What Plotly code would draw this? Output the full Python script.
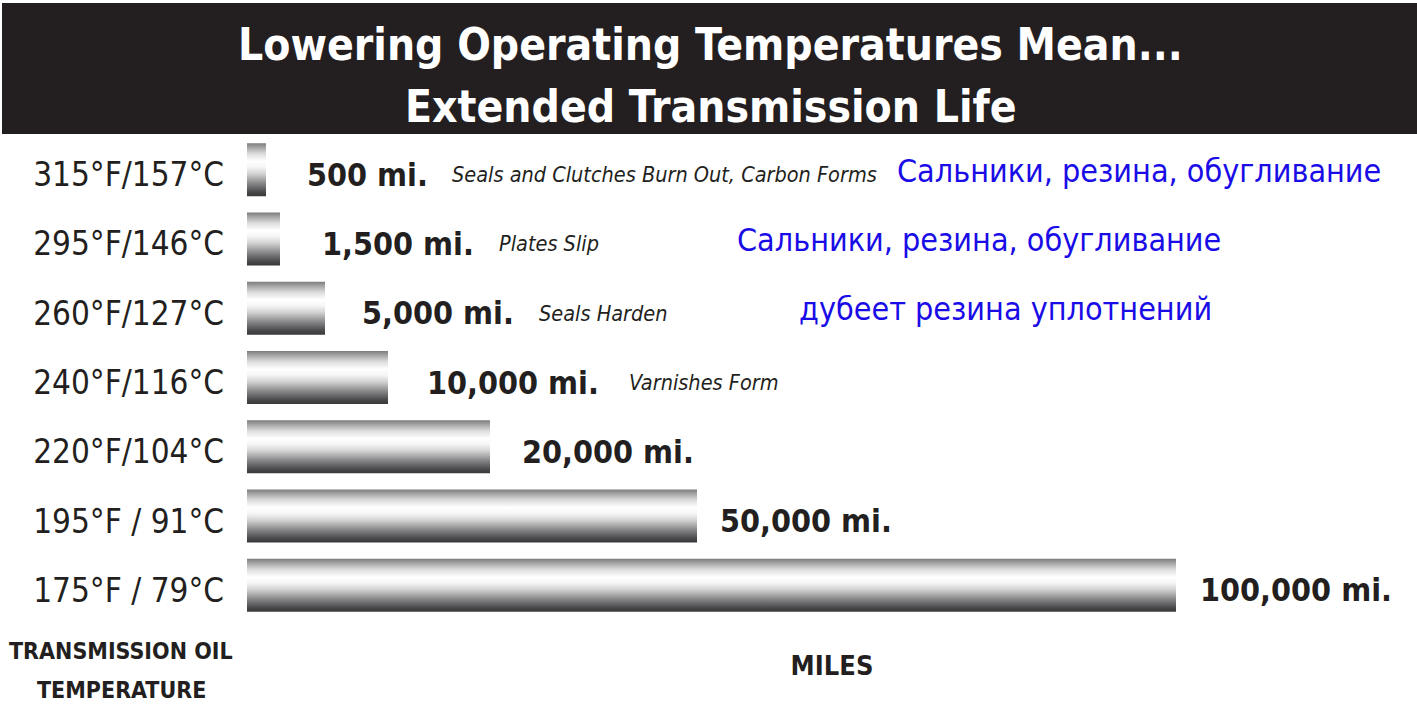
import plotly.graph_objects as go

# ---------------- data ----------------
temperatures = ["315°F/157°C", "295°F/146°C", "260°F/127°C", "240°F/116°C",
                "220°F/104°C", "195°F / 91°C", "175°F / 79°C"]
miles = [500, 1500, 5000, 10000, 20000, 50000, 100000]
# drawn bar length (the original graphic is not to scale), read in picture units
bar_length = [19, 33, 78, 141, 243, 450, 929]
effects = ["Seals and Clutches Burn Out, Carbon Forms", "Plates Slip",
           "Seals Harden", "Varnishes Form", "", "", ""]
effects_ru = ["Сальники, резина, обугливание", "Сальники, резина, обугливание",
              "дубеет резина уплотнений", "", "", "", ""]
title_lines = ["Lowering Operating Temperatures Mean...", "Extended Transmission Life"]
y_title_lines = ["TRANSMISSION OIL", "TEMPERATURE"]
x_title = "MILES"

# ---------------- layout constants ----------------
W, H = 1417, 709
ML, MT, MB, MR = 247, 135, 89, 0
PW, PH = W - ML - MR, H - MT - MB
N = len(temperatures)
BAR_FRAC = 0.765
value_gap = [39, 40, 35, 37, 30, 21, 22]          # px between bar end and value label
effect_left = [450, 497, 537, 627]                  # px, left edge of italic notes
ru_center = [1139, 979, 1005]                       # px, centre of blue notes
COND = "DejaVu Sans Condensed, Liberation Sans, sans-serif"
INK = "#231f20"

def py2paper(py):
    return (H - MB - py) / PH

metal = [[0.00, "#38383a"], [0.08, "#4a4a4c"], [0.25, "#8a8a8c"], [0.42, "#d2d2d2"],
         [0.55, "#f6f6f6"], [0.66, "#ffffff"], [0.80, "#dcdcdc"], [0.92, "#a4a4a4"],
         [1.00, "#7c7c7c"]]

ypos = [N - 1 - i for i in range(N)]
fig = go.Figure()
h = BAR_FRAC / 2
for i in range(N):
    y, L = ypos[i], bar_length[i]
    fig.add_trace(go.Scatter(
        x=[0, L, L, 0, 0], y=[y - h, y - h, y + h, y + h, y - h],
        mode="lines", line=dict(width=0), fill="toself",
        fillgradient=dict(type="vertical", colorscale=metal, start=y - h, stop=y + h),
        hoverinfo="skip", showlegend=False))

ann = []
for i in range(N):
    ann.append(dict(x=bar_length[i] + value_gap[i], y=ypos[i], xref="x", yref="y",
                    xanchor="left", yanchor="middle", yshift=-5, showarrow=False,
                    text=f"{miles[i]:,} mi.",
                    font=dict(family=COND, size=32, color=INK, weight="bold")))
for i, t in enumerate(effects):
    if t:
        ann.append(dict(x=effect_left[i] - ML, y=ypos[i], xref="x", yref="y",
                        xanchor="left", yanchor="middle", yshift=-5, showarrow=False,
                        text=t, font=dict(family=COND, size=21.5, color=INK, style="italic")))
for i, t in enumerate(effects_ru):
    if t:
        ann.append(dict(x=ru_center[i] - ML, y=ypos[i], xref="x", yref="y",
                        xanchor="center", yanchor="middle", yshift=-1, showarrow=False,
                        text=t, font=dict(family=COND, size=32, color="#1a0ce6")))
# titles
ann.append(dict(x=(710 - ML) / PW, y=py2paper(44), xref="paper", yref="paper",
                xanchor="center", yanchor="middle", showarrow=False, text=title_lines[0],
                font=dict(family=COND, size=44, color="white", weight="bold")))
ann.append(dict(x=(711 - ML) / PW, y=py2paper(106), xref="paper", yref="paper",
                xanchor="center", yanchor="middle", showarrow=False, text=title_lines[1],
                font=dict(family=COND, size=44, color="white", weight="bold")))
for k, t in enumerate(y_title_lines):
    ann.append(dict(x=(121 - ML) / PW, y=py2paper(651 + 39 * k), xref="paper", yref="paper",
                    xanchor="center", yanchor="middle", showarrow=False, text=t,
                    font=dict(family=COND, size=23, color=INK, weight="bold")))

fig.update_layout(
    width=W, height=H, margin=dict(l=ML, r=MR, t=MT, b=MB),
    paper_bgcolor="white", plot_bgcolor="white",
    annotations=ann,
    shapes=[dict(type="rect", xref="paper", yref="paper", x0=(2 - ML) / PW, x1=1.0,
                 y0=py2paper(134), y1=py2paper(3), fillcolor=INK, line=dict(width=0),
                 layer="below")],
    xaxis=dict(range=[0, PW], showgrid=False, zeroline=False, showline=False,
               showticklabels=False, ticks="", automargin=False,
               title=dict(text=x_title, standoff=36,
                          font=dict(family=COND, size=27, color=INK, weight="bold"))),
    yaxis=dict(range=[-0.5, N - 0.5], showgrid=False, zeroline=False, showline=False,
               tickmode="array", tickvals=ypos, ticktext=temperatures, ticks="",
               ticklabelstandoff=22, ticklabelshift=5, automargin=False,
               tickfont=dict(family=COND, size=33, color=INK)),
)
fig.write_html("out.html", config={"displayModeBar": False},
               post_script="document.body.style.margin='0';")
